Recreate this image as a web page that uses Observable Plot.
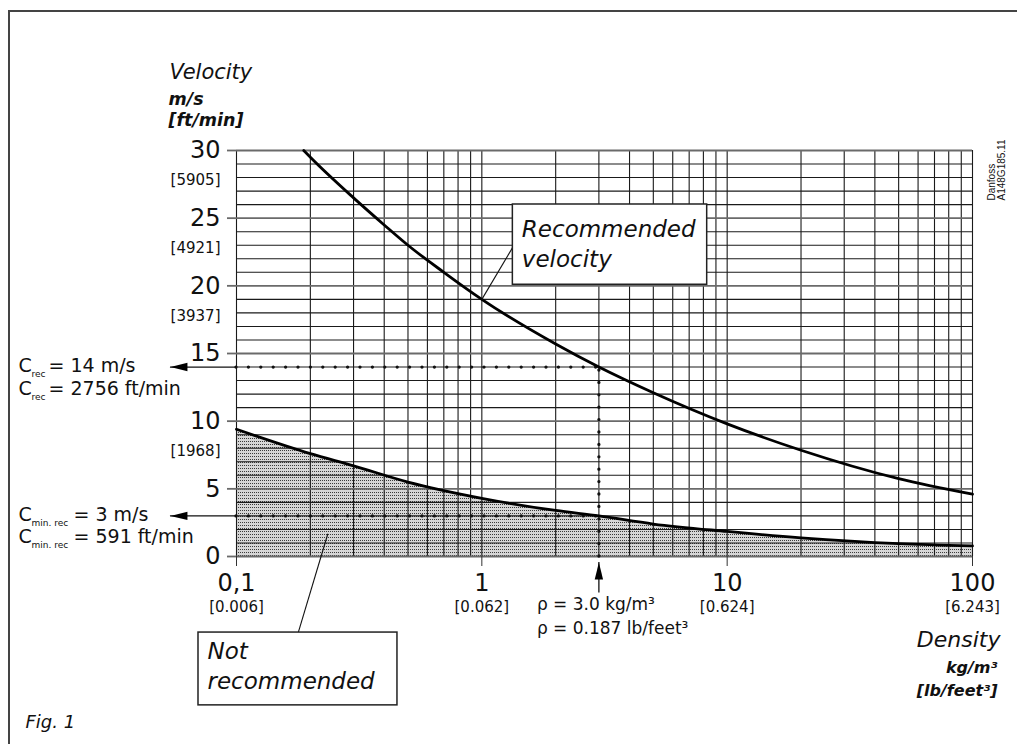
<!DOCTYPE html>
<html><head><meta charset="utf-8">
<script src="https://cdn.jsdelivr.net/npm/d3@7"></script>
<script src="https://cdn.jsdelivr.net/npm/@observablehq/plot@0.6"></script>
<style>
html,body{margin:0;padding:0;background:#fff;overflow:hidden}
#wrap{position:relative;width:1017px;height:744px}
#border{position:absolute;left:8px;top:10px;width:1100px;height:800px;border-left:2px solid #444;border-top:2px solid #444;pointer-events:none}
</style></head><body><div id="wrap"><div id="border"></div></div>
<script>
// ---- data ----
const upperDensity  = [0.188, 0.2, 0.3, 0.4, 0.5, 0.7, 1, 2, 3, 5, 10, 20, 50, 100];
const upperVelocity = [30, 29.5, 26.5, 24.5, 23.0, 21.0, 19.0, 15.7, 14.0, 12.1, 9.8, 7.85, 5.75, 4.6];
const lowerDensity  = [0.1, 0.2, 0.3, 0.5, 1, 2, 3, 5, 10, 20, 50, 100];
const lowerVelocity = [9.4, 7.6, 6.7, 5.5, 4.3, 3.4, 3.0, 2.4, 1.85, 1.38, 0.95, 0.78];

const densityTicks = [0.1, 1, 10, 100];
const densityTickLabels = ["0,1", "1", "10", "100"];
const densityLbLabels = ["[0.006]", "[0.062]", "[0.624]", "[6.243]"];
const velocityTicks = [0, 5, 10, 15, 20, 25, 30];
const velocityFtTicks = [30, 25, 20, 10];
const velocityFtLabels = ["[5905]", "[4921]", "[3937]", "[1968]"];
const densityGrid = [0.1,0.2,0.3,0.4,0.5,0.6,0.7,0.8,0.9,1,2,3,4,5,6,7,8,9,10,20,30,40,50,60,70,80,90,100];
const velocityGrid = d3.range(0, 31);

const recDensity = 3, recVelocity = 14, minRecVelocity = 3;

// ---- build tables ----
const upper = upperDensity.map((d, i) => ({d, v: upperVelocity[i]}));
const lower = lowerDensity.map((d, i) => ({d, v: lowerVelocity[i]}));
const xTicks = densityTicks.map((d, i) => ({d, lab: densityLbLabels[i]}));
const yTicks = velocityFtTicks.map((v, i) => ({v, lab: velocityFtLabels[i]}));

// annotation geometry (in data units)
const recBox = {x1: 1.338, x2: 8.29, y1: 20.08, y2: 26.01};
const notBox = {x1: 0.070, x2: 0.453, y1: -11.0, y2: -5.62};
const recLeader = {x1: 1, y1: 19.0, x2: 1.338, y2: 22.86};
const notLeader = {x1: 0.2357, y1: 1.68, x2: 0.1785, y2: -5.62};
const leftArrowTip = 0.0538;
const upArrow = {tip: -0.44, tail: -2.7};

const arrowHead = {draw(ctx) { ctx.moveTo(0, 0); ctx.lineTo(4.2, 17); ctx.lineTo(-4.2, 17); ctx.closePath(); }};
const dotted = {stroke: "#111", strokeWidth: 3.3, strokeDasharray: "0 12.4", strokeLinecap: "round"};
const it = {fontStyle: "italic"};
const bi = {fontStyle: "italic", fontWeight: "bold"};

const sub = (y, dyMain, dySub, main, subText, mainDx) => [
  Plot.text([y], {y: d => d, frameAnchor: "left", text: () => "C", dx: -218, dy: dyMain, textAnchor: "start", fontSize: 19}),
  Plot.text([y], {y: d => d, frameAnchor: "left", text: () => subText, dx: -205, dy: dySub, textAnchor: "start", fontSize: 9}),
  Plot.text([y], {y: d => d, frameAnchor: "left", text: () => main, dx: mainDx, dy: dyMain, textAnchor: "start", fontSize: 19})
];

const chart = Plot.plot({
  width: 1017, height: 744,
  marginLeft: 236, marginRight: 45, marginTop: 150, marginBottom: 188,
  style: {fontFamily: "'DejaVu Sans', sans-serif", fontSize: "16px", color: "#111", background: "transparent", overflow: "visible"},
  x: {type: "log", domain: [0.1, 100]},
  y: {domain: [0, 30]},
  marks: [
    Plot.areaY(lower, {x: "d", y: "v", curve: "monotone-x", fill: "url(#dotfill)"}),
    Plot.ruleX(densityGrid, {y1: 0, y2: 30, stroke: "#1a1a1a", strokeWidth: 1.1}),
    Plot.ruleY(velocityGrid.filter(v => v % 5 !== 0), {x1: 0.1, x2: 100, stroke: "#1a1a1a", strokeWidth: 1.1}),
    Plot.ruleY(velocityTicks, {x1: 0.1, x2: 100, stroke: "#6a6a6a", strokeWidth: 1.8}),
    Plot.axisY({ticks: velocityTicks, tickSize: 9, tickPadding: 7, fontSize: 24, stroke: "#6a6a6a", strokeWidth: 1.8, label: null}),
    Plot.axisX({ticks: densityTicks, tickFormat: d => densityTickLabels[densityTicks.indexOf(d)], tickSize: 10, tickPadding: 7, fontSize: 24, stroke: "#333", label: null}),
    Plot.text(yTicks, {y: "v", text: "lab", frameAnchor: "left", dx: -16, dy: 30, textAnchor: "end", fontSize: 15}),
    Plot.text(xTicks, {x: "d", text: "lab", frameAnchor: "bottom", dy: 55, fontSize: 15}),
    // dotted reading lines
    Plot.ruleY([recVelocity], {x1: 0.1, x2: recDensity, ...dotted}),
    Plot.ruleY([minRecVelocity], {x1: 0.1, x2: recDensity, ...dotted}),
    Plot.ruleX([recDensity], {y1: 0, y2: recVelocity, ...dotted}),
    // curves
    Plot.line(upper, {x: "d", y: "v", curve: "monotone-x", stroke: "#000", strokeWidth: 2.8}),
    Plot.line(lower, {x: "d", y: "v", curve: "monotone-x", stroke: "#000", strokeWidth: 2.8}),
    // arrows
    Plot.ruleY([recVelocity, minRecVelocity], {x1: leftArrowTip, x2: 0.1, stroke: "#111", strokeWidth: 1.3}),
    Plot.dot([recVelocity, minRecVelocity], {x: leftArrowTip, y: d => d, symbol: arrowHead, rotate: -90, fill: "#000", stroke: "none"}),
    Plot.ruleX([recDensity], {y1: upArrow.tail, y2: upArrow.tip, stroke: "#111", strokeWidth: 1.3}),
    Plot.dot([recDensity], {x: d => d, y: upArrow.tip, symbol: arrowHead, rotate: 0, fill: "#000", stroke: "none"}),
    // label boxes
    Plot.link([recLeader, notLeader], {x1: "x1", y1: "y1", x2: "x2", y2: "y2", stroke: "#111", strokeWidth: 1.1}),
    Plot.rect([recBox, notBox], {x1: "x1", x2: "x2", y1: "y1", y2: "y2", fill: "white", stroke: "#222", strokeWidth: 1.5}),
    Plot.text([recBox], {x: "x1", y: "y2", text: () => "Recommended", dx: 9, dy: 25.3, textAnchor: "start", fontSize: 23, ...it}),
    Plot.text([recBox], {x: "x1", y: "y2", text: () => "velocity", dx: 9, dy: 55.6, textAnchor: "start", fontSize: 23, ...it}),
    Plot.text([notBox], {x: "x1", y: "y2", text: () => "Not", dx: 9, dy: 18.6, textAnchor: "start", fontSize: 23, ...it}),
    Plot.text([notBox], {x: "x1", y: "y2", text: () => "recommended", dx: 9, dy: 48.6, textAnchor: "start", fontSize: 23, ...it}),
    // left annotations
    ...sub(recVelocity, -1.6, 6.8, "= 14 m/s", "rec", -188),
    ...sub(recVelocity, 21.4, 29.8, "= 2756 ft/min", "rec", -188),
    ...sub(minRecVelocity, -0.8, 7.6, "= 3 m/s", "min. rec", -163),
    ...sub(minRecVelocity, 21.2, 29.6, "= 591 ft/min", "min. rec", -163),
    // density reading
    Plot.text([recDensity], {x: d => d, frameAnchor: "bottom", text: () => "ρ = 3.0 kg/m³", dx: -62, dy: 53, textAnchor: "start", fontSize: 17}),
    Plot.text([recDensity], {x: d => d, frameAnchor: "bottom", text: () => "ρ = 0.187 lb/feet³", dx: -62, dy: 77, textAnchor: "start", fontSize: 17}),
    // axis titles
    Plot.text(["Velocity"], {frameAnchor: "top-left", text: d => d, dx: -67, dy: -86.7, textAnchor: "start", fontSize: 21, ...it}),
    Plot.text(["m/s"], {frameAnchor: "top-left", text: d => d, dx: -68, dy: -58.4, textAnchor: "start", fontSize: 17.5, ...bi}),
    Plot.text(["[ft/min]"], {frameAnchor: "top-left", text: d => d, dx: -68, dy: -37.4, textAnchor: "start", fontSize: 17.5, ...bi}),
    Plot.text(["Density"], {frameAnchor: "bottom-right", text: d => d, dx: 28, dy: 90, textAnchor: "end", fontSize: 22, ...it}),
    Plot.text(["kg/m³"], {frameAnchor: "bottom-right", text: d => d, dx: 25, dy: 116, textAnchor: "end", fontSize: 16, ...bi}),
    Plot.text(["[lb/feet³]"], {frameAnchor: "bottom-right", text: d => d, dx: 25, dy: 139, textAnchor: "end", fontSize: 16, ...bi}),
    Plot.text(["Fig. 1"], {frameAnchor: "bottom-left", text: d => d, dx: -211, dy: 171, textAnchor: "start", fontSize: 18, ...it}),
    Plot.text(["Danfoss\nA148G185.11"], {frameAnchor: "top-right", text: d => d, dx: 15, dy: 50, rotate: -90, textAnchor: "start", fontSize: 10, lineHeight: 1.05, fontFamily: "'Liberation Sans Narrow', 'Liberation Sans', sans-serif"})
  ]
});

const svg = chart.tagName.toLowerCase() === "svg" ? chart : chart.querySelector("svg");
const defs = document.createElementNS("http://www.w3.org/2000/svg", "defs");
defs.innerHTML = '<pattern id="dotfill" width="2" height="3" patternUnits="userSpaceOnUse"><rect width="2" height="3" fill="#d6d6d6"/><rect width="1" height="1" fill="#3a3a3a"/></pattern>';
svg.insertBefore(defs, svg.firstChild);
svg.style.position = "absolute";
svg.style.left = "0";
svg.style.top = "0";
document.getElementById("wrap").appendChild(chart);
</script></body></html>
